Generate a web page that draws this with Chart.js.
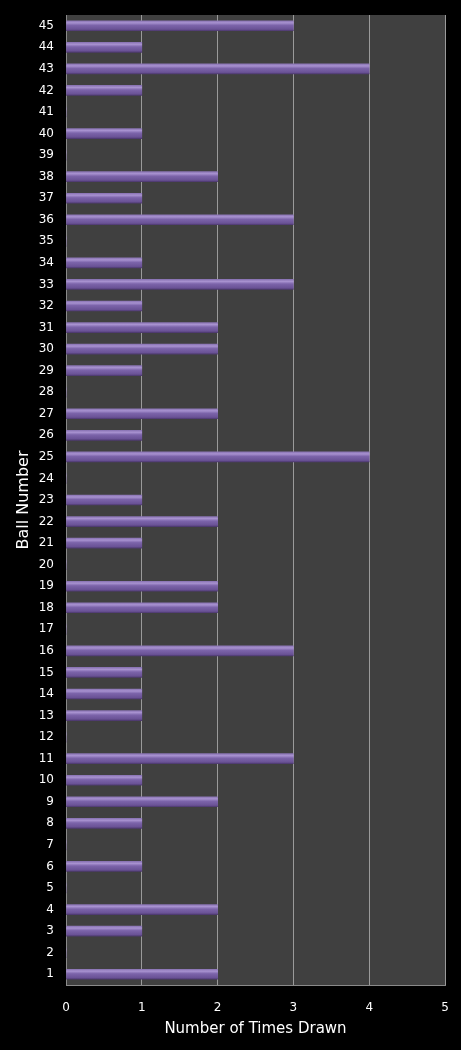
<!DOCTYPE html>
<html>
<head>
<meta charset="utf-8">
<script src="https://cdn.jsdelivr.net/npm/chart.js@4"></script>
<style>
  html, body { margin: 0; padding: 0; background: #000; }
  #wrap { width: 461px; height: 1050px; }
</style>
</head>
<body>
<div id="wrap"><canvas id="ballChart"></canvas></div>
<script>
// 공 번호 (1~45)
const ballNumbers = ['1','2','3','4','5','6','7','8','9','10','11','12','13','14','15','16','17','18','19','20','21','22','23','24','25','26','27','28','29','30','31','32','33','34','35','36','37','38','39','40','41','42','43','44','45'];
// 추첨 횟수
const timesDrawn = [2,0,1,2,0,1,0,1,2,1,3,0,1,1,1,3,0,2,2,0,1,2,1,0,4,1,2,0,1,2,2,1,3,1,0,3,1,2,0,1,0,1,4,1,3];
const xTicks = [0, 1, 2, 3, 4, 5];

const BAR_H = 10;

// 플롯 영역 배경
const plotBg = {
    id: 'plotBg',
    beforeDraw(chart) {
        const { ctx, chartArea: a } = chart;
        ctx.save();
        ctx.fillStyle = '#000';
        ctx.fillRect(0, 0, chart.width, chart.height);
        ctx.fillStyle = '#404040';
        ctx.fillRect(a.left, a.top, a.right - a.left, a.bottom - a.top);
        ctx.restore();
    }
};

// 막대 그라데이션 (y 스케일에서 위치 계산)
function barGradient(context) {
    const chart = context.chart;
    const yScale = chart.scales && chart.scales.y;
    if (!yScale || context.dataIndex === undefined) return '#7a62a8';
    const cy = yScale.getPixelForValue(context.dataIndex);
    if (!isFinite(cy)) return '#7a62a8';
    const top = cy - BAR_H / 2;
    const g = chart.ctx.createLinearGradient(0, top, 0, top + BAR_H);
    g.addColorStop(0, '#8a74b4');
    g.addColorStop(0.2, '#a892d0');
    g.addColorStop(0.45, '#7c64aa');
    g.addColorStop(0.85, '#6a5296');
    g.addColorStop(1, '#4e3a70');
    return g;
}

document.addEventListener('DOMContentLoaded', function() {
    new Chart(document.getElementById('ballChart'), {
        type: 'bar',
        data: {
            labels: ballNumbers,
            datasets: [{
                data: timesDrawn,
                backgroundColor: barGradient,
                borderWidth: 0,
                barThickness: BAR_H
            }]
        },
        options: {
            indexAxis: 'y',
            responsive: true,
            maintainAspectRatio: false,
            animation: false,
            layout: { padding: { top: 15, right: 16, left: 0, bottom: 0 } },
            plugins: {
                legend: { display: false },
                tooltip: { enabled: false }
            },
            scales: {
                x: {
                    min: 0,
                    max: 5,
                    afterBuildTicks: function(scale) {
                        scale.ticks = xTicks.map(v => ({ value: v }));
                    },
                    afterFit: function(scale) {
                        scale.height = 65;
                        scale.paddingLeft = 0;
                        scale.paddingRight = 0;
                    },
                    ticks: {
                        color: '#fff',
                        font: { family: 'DejaVu Sans', size: 12 },
                        padding: 16
                    },
                    grid: {
                        color: '#9a9a9a',
                        lineWidth: 1,
                        drawTicks: false
                    },
                    border: { color: '#8a8a8a' },
                    title: {
                        display: true,
                        text: 'Number of Times Drawn',
                        color: '#fff',
                        font: { family: 'DejaVu Sans', size: 15 },
                        padding: { top: 4, bottom: 12 }
                    }
                },
                y: {
                    reverse: true,
                    afterFit: function(scale) {
                        scale.width = 66;
                        scale.paddingTop = 0;
                        scale.paddingBottom = 0;
                    },
                    ticks: {
                        color: '#fff',
                        font: { family: 'DejaVu Sans', size: 12 },
                        padding: 12,
                        autoSkip: false
                    },
                    grid: { display: false, drawTicks: false },
                    border: { color: '#8a8a8a' },
                    title: {
                        display: true,
                        text: 'Ball Number',
                        color: '#fff',
                        font: { family: 'DejaVu Sans', size: 16 },
                        padding: { top: 14, bottom: 4 }
                    }
                }
            }
        },
        plugins: [plotBg]
    });
});
</script>
</body>
</html>
